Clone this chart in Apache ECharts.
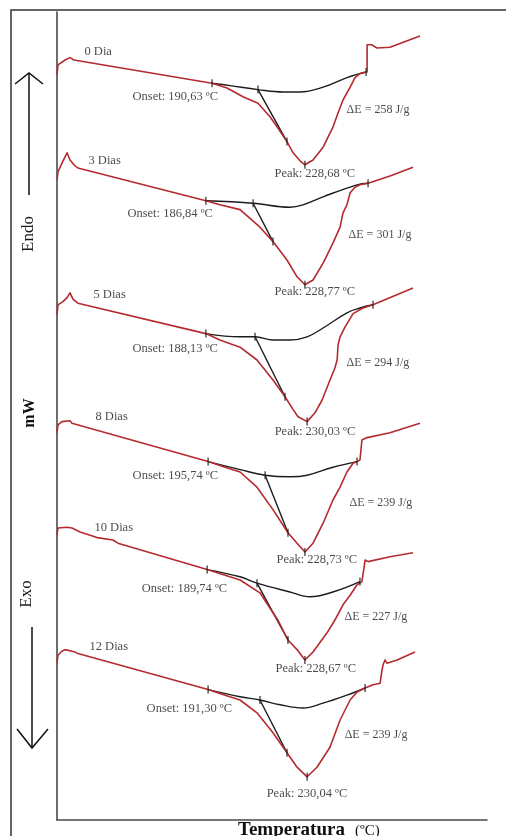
<!DOCTYPE html>
<html>
<head>
<meta charset="utf-8">
<script src="https://cdn.jsdelivr.net/npm/echarts@6/dist/echarts.min.js"></script>
<style>
html,body{margin:0;padding:0;background:#fff;}
#chart{width:506px;height:836px;}
</style>
</head>
<body>
<div id="chart"></div>
<script>
// ---------- DATA ----------
const categories = ['0 Dia', '3 Dias', '5 Dias', '8 Dias', '10 Dias', '12 Dias'];
const onsetTemps = ['190,63', '186,84', '188,13', '195,74', '189,74', '191,30'];
const peakTemps  = ['228,68', '228,77', '230,03', '228,73', '228,67', '230,04'];
const deltaE     = [258, 301, 294, 239, 227, 239];

// DSC traces: [temperature °C, heat flow (offset, arbitrary mW)]
const dsc0 = [[128.0,93.1],[128.4,94.4],[131.3,95.0],[133.3,95.3],[134.1,95.4],[134.9,95.0],[191.1,92.1],[197.2,91.5],[203.7,90.4],[209.8,89.6],[214.7,87.9],[217.9,86.5],[221.6,84.8],[224.1,83.4],[226.9,82.4],[228.9,81.9],[232.2,82.5],[236.3,84.1],[240.3,86.6],[242.4,88.4],[244.4,90.0],[247.3,91.6],[249.3,92.8],[251.3,93.3],[252.5,93.4],[254.2,93.5],[254.2,96.9],[256.2,96.9],[258.2,96.5],[263.5,96.6],[275.7,98.0]];
const dsc1 = [[128.0,80.0],[128.4,81.0],[130.0,82.1],[132.1,83.4],[133.3,82.5],[134.9,81.9],[136.5,81.5],[188.6,77.4],[194.3,76.9],[202.5,76.3],[210.6,74.1],[215.9,72.3],[221.6,70.0],[225.7,67.9],[228.9,66.9],[232.2,67.5],[236.3,69.6],[240.3,72.1],[243.2,74.1],[244.4,75.9],[246.0,76.9],[247.3,78.4],[249.3,79.1],[251.3,79.4],[254.6,79.6],[263.5,80.5],[272.9,81.6]];
const dsc2 = [[128.0,63.1],[128.4,64.4],[130.4,64.8],[132.1,65.3],[133.3,65.9],[134.5,65.1],[136.5,64.6],[188.6,60.8],[194.3,60.0],[202.5,59.1],[209.4,57.5],[215.9,55.0],[220.8,52.9],[224.1,51.3],[226.1,50.4],[229.8,49.8],[233.0,50.9],[235.9,52.5],[239.1,55.0],[241.1,56.5],[242.0,57.5],[242.4,59.4],[243.2,60.4],[245.2,61.6],[248.5,63.3],[252.5,64.0],[256.6,64.4],[272.9,66.5]];
const dsc3 = [[128.0,48.4],[128.4,49.4],[130.0,49.8],[133.3,49.9],[134.1,49.6],[189.5,44.8],[196.4,44.1],[202.5,43.5],[209.4,41.6],[215.9,38.8],[222.0,35.9],[225.7,34.6],[228.9,33.5],[232.2,34.6],[236.3,37.1],[240.3,40.0],[243.2,41.6],[246.0,43.5],[248.5,44.6],[250.1,44.8],[251.3,45.0],[252.1,47.5],[254.2,47.8],[263.5,48.4],[275.7,49.6]];
const dsc4 = [[128.0,35.6],[128.4,36.5],[132.1,36.6],[134.1,36.5],[137.4,36.0],[144.3,35.3],[150.8,35.0],[152.8,34.6],[189.1,31.3],[196.4,30.6],[202.5,30.0],[210.6,28.4],[215.9,25.9],[217.9,25.0],[222.0,22.5],[225.7,21.3],[228.9,20.0],[232.2,21.0],[237.9,23.4],[241.1,25.0],[244.4,26.9],[247.3,28.1],[250.1,29.4],[252.1,29.8],[253.4,32.5],[254.6,32.3],[263.5,32.9],[272.9,33.4]];
const dsc5 = [[128.0,19.6],[128.4,20.6],[130.0,21.1],[131.3,21.3],[134.1,21.1],[135.3,21.0],[136.5,20.8],[189.5,16.3],[196.4,15.6],[202.5,15.0],[209.4,13.4],[215.9,10.9],[221.6,8.4],[225.7,6.6],[229.8,5.4],[233.8,6.6],[239.1,9.1],[243.2,12.5],[247.3,15.0],[250.1,16.0],[253.4,16.5],[256.6,16.9],[259.5,17.1],[260.3,18.8],[260.7,19.4],[261.5,20.0],[262.3,19.6],[266.4,20.0],[273.7,21.0]];

// interpolated baselines (black)
const base0 = [[191.1,92.1],[198.4,91.8],[209.8,91.3],[220.0,91.0],[226.9,91.0],[236.3,91.6],[246.0,92.8],[253.8,93.5]];
const base1 = [[188.6,77.4],[207.8,77.1],[222.8,76.6],[228.1,76.9],[236.3,77.9],[250.1,79.4],[254.6,79.6]];
const base2 = [[188.6,60.8],[202.5,60.4],[208.6,60.4],[215.9,60.0],[222.8,60.0],[229.8,60.4],[236.3,61.5],[246.0,63.4],[251.3,64.0],[256.6,64.4]];
const base3 = [[189.5,44.8],[202.5,43.8],[212.7,43.1],[222.8,42.9],[229.8,43.1],[240.3,44.1],[250.1,44.8]];
const base4 = [[189.1,31.3],[202.5,30.4],[209.4,29.6],[222.8,28.5],[231.0,27.9],[240.3,28.5],[251.3,29.8]];
const base5 = [[189.5,16.3],[202.5,15.4],[210.6,15.0],[218.8,14.4],[228.1,14.0],[236.3,14.6],[246.0,15.6],[253.4,16.5]];

// onset tangent segments
const tan0 = [[209.8,91.3],[221.6,84.8]];
const tan1 = [[207.8,77.1],[215.9,72.3]];
const tan2 = [[208.6,60.4],[220.8,52.9]];
const tan3 = [[212.7,43.1],[222.0,35.9]];
const tan4 = [[209.4,29.6],[222.0,22.5]];
const tan5 = [[210.6,15.0],[221.6,8.4]];

// ---------- LAYOUT (pixel offsets of annotations from their anchor points) ----------
const nameOff  = [[27,-13],[31,-11],[36,-10],[38,-8],[37,0],[32,-8]];
const onsetOff = [[-79,14],[-78,13],[-73,16],[-75,15],[-65,20],[-61,20]];
const peakOff  = [[-30,9],[-30,7],[-32,11],[-28,8],[-29,9],[-40,17]];
const dEOff    = [[-19,38],[-19,52],[-26,59],[-7,42],[-15,36],[-20,47]];

const traces = [dsc0, dsc1, dsc2, dsc3, dsc4, dsc5];
const bases  = [base0, base1, base2, base3, base4, base5];
const tans   = [tan0, tan1, tan2, tan3, tan4, tan5];

const RED = '#b52a2e';
const INK = '#1c1c1c';
const SERIF = '"Liberation Serif","DejaVu Serif",serif';

const series = [];
traces.forEach(function (tr, i) {
  const base = bases[i], tan = tans[i];
  // peak = minimum of trace
  let peak = tr[0];
  tr.forEach(function (p) { if (p[1] < peak[1]) peak = p; });
  const onset = base[0], endPt = base[base.length - 1];

  series.push({
    type: 'line', data: base, smooth: 0.4, symbol: 'none', silent: true, z: 2,
    lineStyle: { color: INK, width: 1.4 }
  });
  series.push({
    type: 'line', data: tan, symbol: 'none', silent: true, z: 2,
    lineStyle: { color: INK, width: 1.4 }
  });
  series.push({
    type: 'line', data: tr, smooth: false, symbol: 'none', silent: true, z: 3,
    lineStyle: { color: RED, width: 1.6, join: 'round' }
  });
  series.push({
    type: 'scatter', silent: true, z: 4,
    symbol: 'rect', symbolSize: [1.4, 8],
    itemStyle: { color: INK },
    data: [onset, tan[0], tan[1], peak, endPt]
  });
  function lbl(anchor, text, off, size) {
    return {
      value: anchor,
      label: {
        show: true, formatter: text, position: off, align: 'left', verticalAlign: 'middle',
        fontFamily: SERIF, fontSize: size, color: '#1a1a1a'
      }
    };
  }
  series.push({
    type: 'scatter', silent: true, z: 5, symbolSize: 1,
    itemStyle: { color: 'transparent' },
    data: [
      lbl(tr[1], categories[i], nameOff[i], 12.5),
      lbl(onset, 'Onset: ' + onsetTemps[i] + ' ºC', onsetOff[i], 12.5),
      lbl(peak, 'Peak: ' + peakTemps[i] + ' ºC', peakOff[i], 12.5),
      lbl(endPt, 'ΔE = ' + deltaE[i] + ' J/g', dEOff[i], 12)
    ]
  });
});

const chart = echarts.init(document.getElementById('chart'));
chart.setOption({
  animation: false,
  backgroundColor: '#ffffff',
  grid: { left: 57, right: 19, top: 12, bottom: 16 },
  xAxis: {
    type: 'value', min: 128, max: 303,
    axisLine: { show: true, onZero: false, lineStyle: { color: '#4a4a4a', width: 1.6 } },
    axisTick: { show: false }, axisLabel: { show: false }, splitLine: { show: false }
  },
  yAxis: {
    type: 'value', min: 0, max: 101,
    axisLine: { show: true, onZero: false, lineStyle: { color: '#4a4a4a', width: 1.6 } },
    axisTick: { show: false }, axisLabel: { show: false }, splitLine: { show: false }
  },
  series: series,
  graphic: [
    { type: 'rect', shape: { x: 11, y: 10, width: 700, height: 900 }, style: { fill: 'none', stroke: '#333', lineWidth: 1.5 }, silent: true },
    // Endo arrow
    { type: 'line', shape: { x1: 29, y1: 73, x2: 29, y2: 195 }, style: { stroke: '#111', lineWidth: 1.5 } },
    { type: 'polyline', shape: { points: [[15, 84], [29, 73], [43, 84]] }, style: { stroke: '#111', lineWidth: 1.5, fill: 'none' } },
    // Exo arrow
    { type: 'line', shape: { x1: 32, y1: 627, x2: 32, y2: 748 }, style: { stroke: '#111', lineWidth: 1.5 } },
    { type: 'polyline', shape: { points: [[17, 729], [32, 748], [48, 729]] }, style: { stroke: '#111', lineWidth: 1.5, fill: 'none' } },
    { type: 'text', x: 29, y: 234, rotation: Math.PI / 2, style: { text: 'Endo', font: '17px ' + SERIF, fill: '#1a1a1a', align: 'center', verticalAlign: 'middle' } },
    { type: 'text', x: 30, y: 413, rotation: Math.PI / 2, style: { text: 'mW', font: 'bold 16px ' + SERIF, fill: '#111', align: 'center', verticalAlign: 'middle' } },
    { type: 'text', x: 27, y: 594, rotation: Math.PI / 2, style: { text: 'Exo', font: '17px ' + SERIF, fill: '#1a1a1a', align: 'center', verticalAlign: 'middle' } },
    // axis title
    { type: 'text', x: 238, y: 830, style: { text: 'Temperatura', font: 'bold 19px ' + SERIF, fill: '#111', align: 'left', verticalAlign: 'middle' } },
    { type: 'text', x: 355, y: 831, style: { text: '(ºC)', font: '15px ' + SERIF, fill: '#111', align: 'left', verticalAlign: 'middle' } }
  ]
});
</script>
</body>
</html>
